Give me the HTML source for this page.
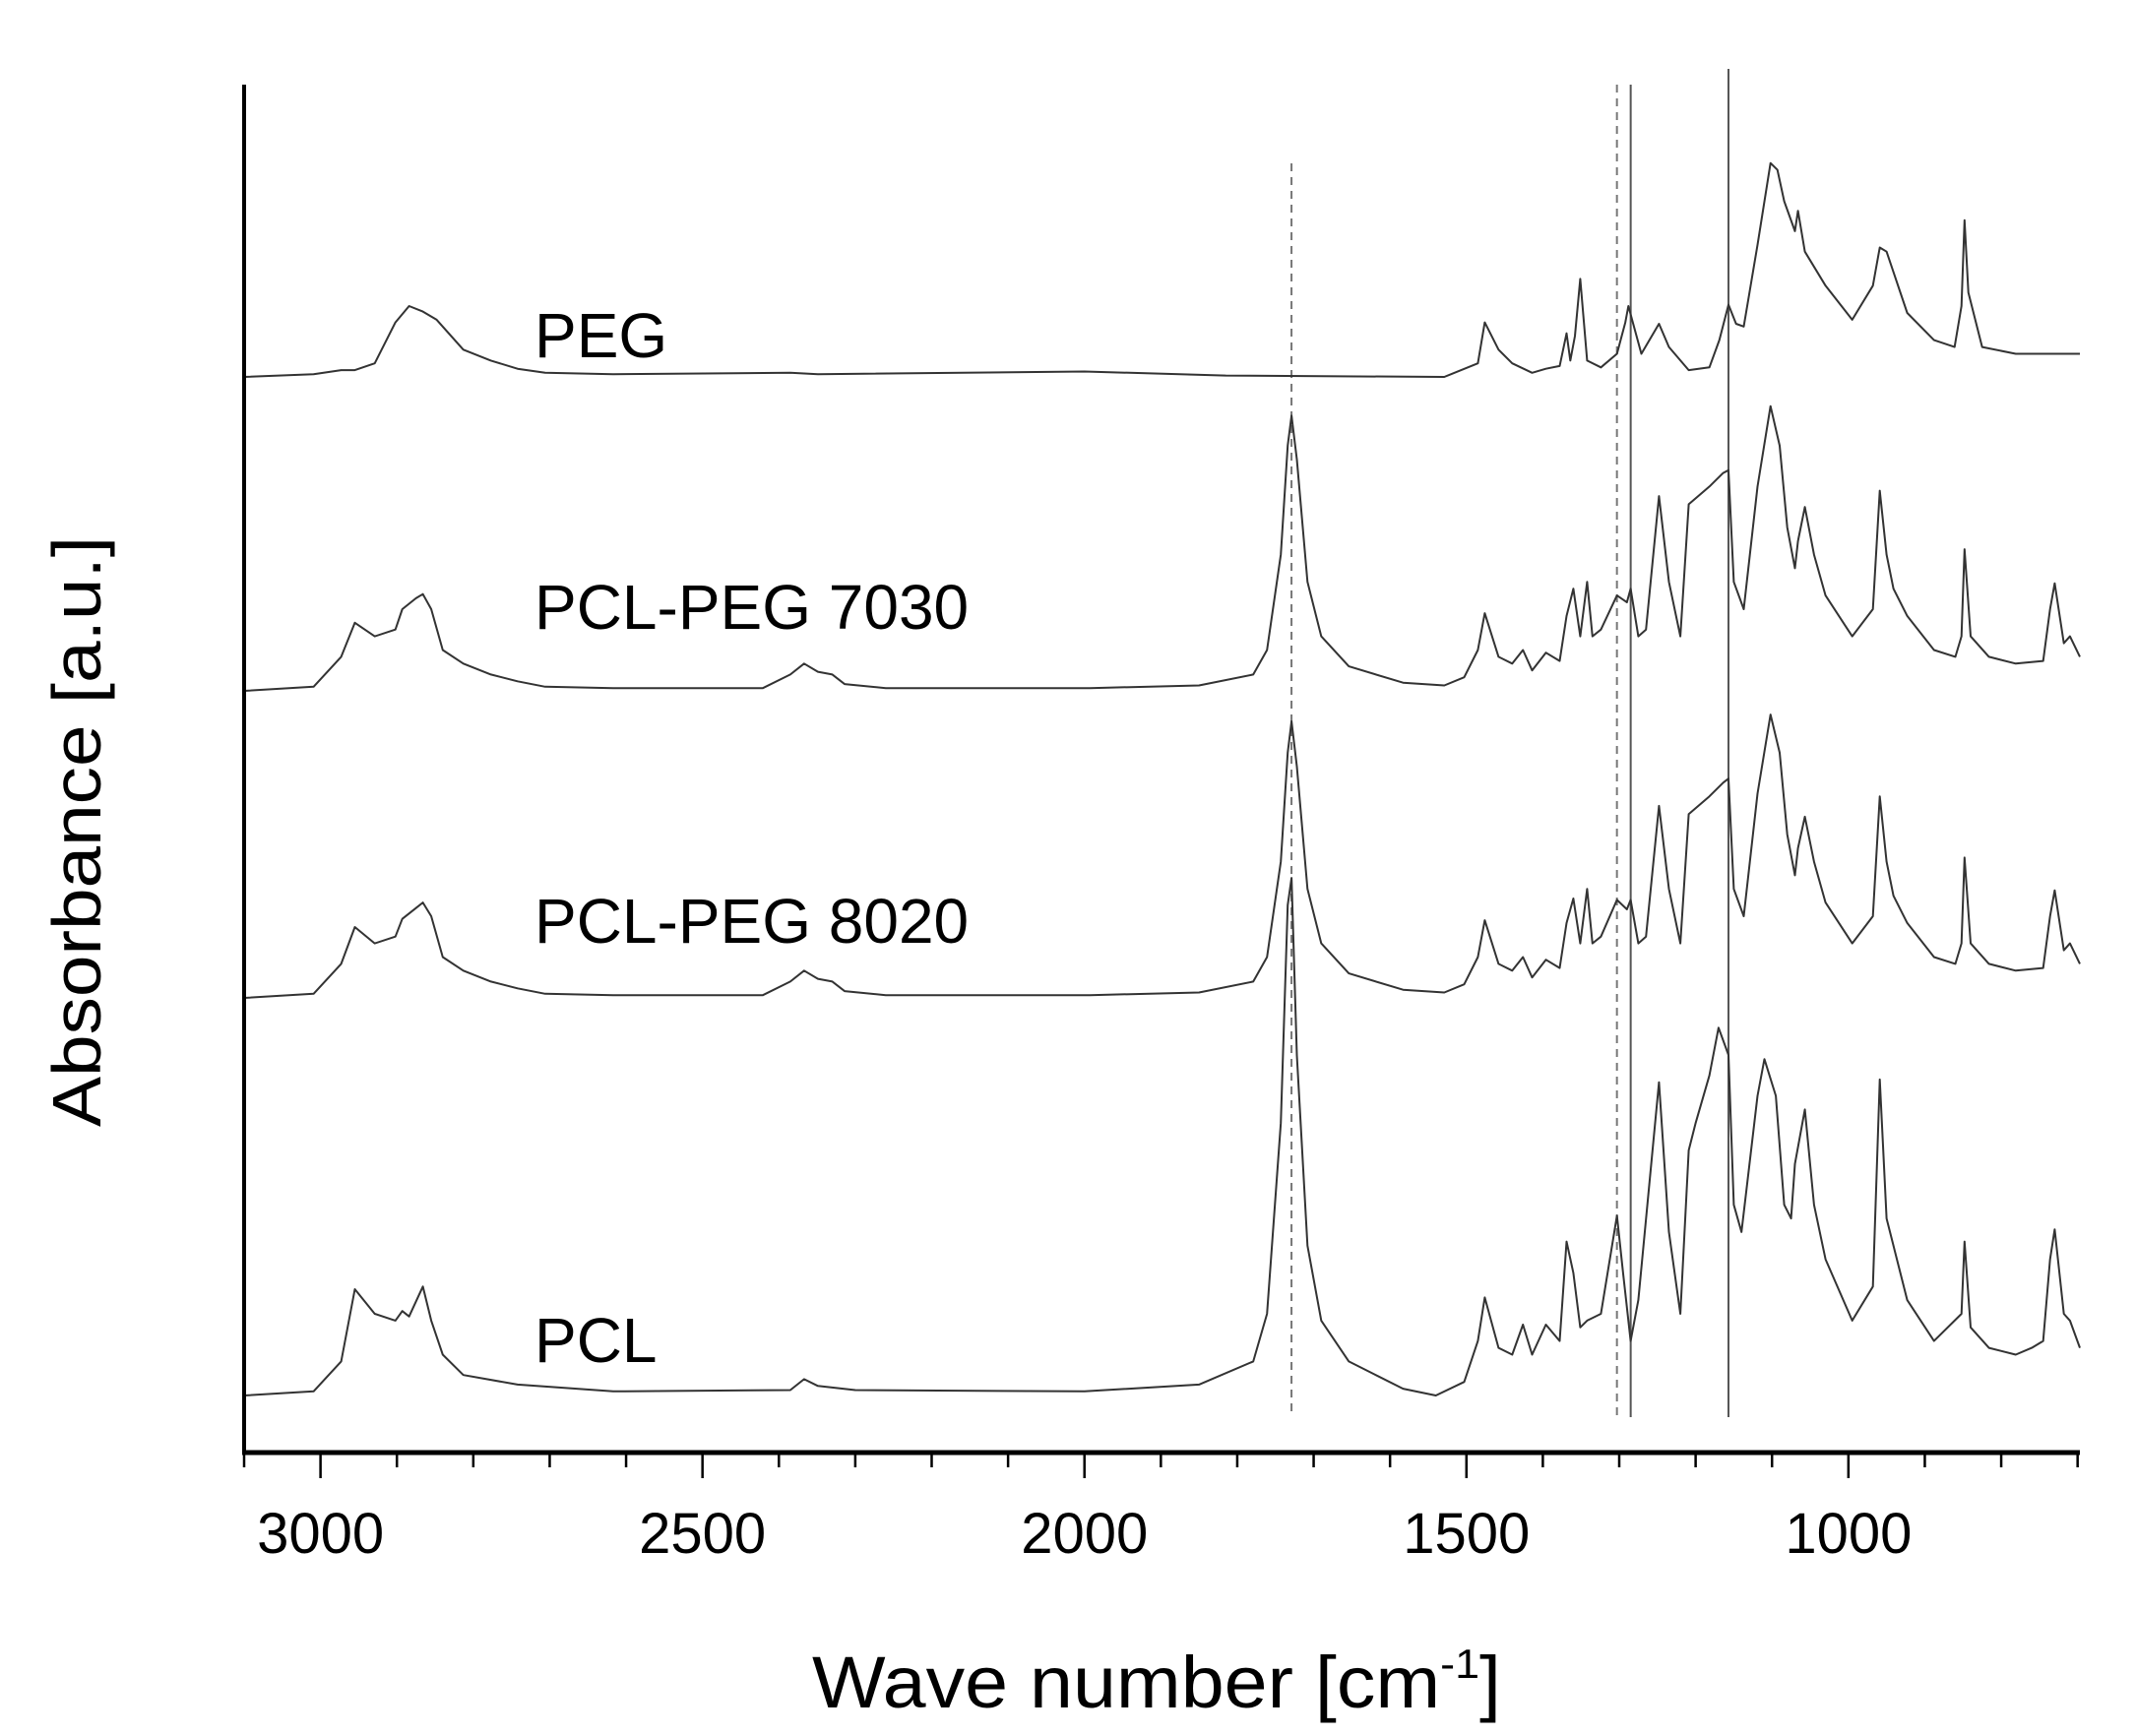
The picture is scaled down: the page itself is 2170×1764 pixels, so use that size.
<!DOCTYPE html>
<html><head><meta charset="utf-8"><style>
html,body{margin:0;padding:0;background:#fff;}
svg{display:block;}
text{font-family:"Liberation Sans",sans-serif;fill:#000;}
</style></head><body>
<svg id="chart" width="2170" height="1764" viewBox="0 0 2170 1764" xmlns="http://www.w3.org/2000/svg">
<g id="plot"></g>
<g id="axes"></g>
<text x="1175" y="1735" font-size="74" text-anchor="middle" textLength="700" lengthAdjust="spacingAndGlyphs">Wave number [cm<tspan dy="-30" font-size="42">-1</tspan><tspan dy="30">]</tspan></text>
<text transform="translate(102,845) rotate(-90)" font-size="70" text-anchor="middle" textLength="600" lengthAdjust="spacingAndGlyphs">Absorbance [a.u.]</text>
</svg>
<script>
const seriesNames = ["PEG","PCL-PEG 7030","PCL-PEG 8020","PCL"];
const seriesOffsets = [383, 702, 1014, 1418];
const labelBaselines = [363, 639, 958, 1384];
const pegWn = [3100,3009,2973,2955,2929,2902,2884,2866,2848,2813,2777,2742,2706,2617,2385,2349,2000,1815,1529,1485,1476,1458,1440,1414,1396,1378,1369,1364,1358,1351,1342,1324,1303,1292,1288,1271,1248,1235,1209,1182,1169,1157,1147,1137,1119,1102,1093,1084,1070,1066,1057,1030,995,968,959,950,941,923,888,861,852,848,843,825,781,697];
const pegVal = [0,2,5,5,10,40,52,48,42,20,12,6,3,2,3,2,4,1,0,10,40,20,10,3,6,8,32,12,30,72,12,7,17,40,52,17,39,22,5,7,27,53,39,37,97,157,152,129,107,122,92,67,42,67,95,92,77,47,27,22,52,115,62,22,17,17];
const mixWn = [3100,3009,2973,2955,2929,2902,2893,2875,2866,2855,2840,2813,2777,2742,2706,2617,2421,2385,2367,2349,2330,2314,2260,1993,1850,1779,1761,1743,1734,1729,1722,1708,1690,1654,1583,1529,1503,1485,1476,1458,1440,1426,1414,1396,1378,1369,1360,1351,1342,1335,1324,1303,1290,1285,1275,1265,1248,1235,1220,1209,1182,1164,1157,1150,1137,1119,1102,1090,1080,1070,1066,1057,1045,1030,995,968,959,950,941,923,888,860,852,848,840,816,781,745,736,730,718,710,697];
const v7030 = [0,3,25,50,40,45,60,68,71,60,30,20,12,7,3,2,2,12,20,14,12,5,2,2,4,12,30,100,180,202,170,80,40,18,6,4,10,30,57,25,20,30,15,28,22,55,75,40,80,40,45,70,65,75,40,45,143,80,40,137,150,160,162,80,60,150,209,180,120,90,110,135,100,70,40,60,147,100,75,55,30,25,40,104,40,25,20,22,60,79,35,40,25];
const v8020 = [0,3,25,52,40,45,58,66,70,60,30,20,12,7,3,2,2,12,20,14,12,5,2,2,4,12,30,100,180,203,170,80,40,18,6,4,10,30,57,25,20,30,15,28,22,55,73,40,80,40,45,72,65,72,40,45,141,80,40,135,148,158,161,80,60,150,208,180,120,90,110,133,100,70,40,60,148,100,75,55,30,25,40,103,40,25,20,22,60,79,35,40,25];
const pclWn = [3100,3009,2973,2955,2929,2902,2893,2884,2866,2855,2840,2813,2742,2617,2385,2367,2349,2300,2000,1850,1779,1761,1743,1734,1729,1722,1708,1690,1654,1583,1540,1503,1485,1476,1458,1440,1426,1414,1396,1378,1369,1360,1351,1342,1324,1303,1295,1285,1275,1248,1235,1220,1209,1200,1182,1170,1157,1150,1140,1119,1110,1095,1084,1075,1070,1057,1045,1030,995,968,959,950,941,923,888,852,848,840,816,781,760,745,736,730,718,710,697];
const pclVal = [0,3,25,78,60,55,62,58,80,55,30,15,8,3,4,12,7,4,3,8,25,60,200,360,380,250,110,55,25,5,0,10,40,72,35,30,52,30,52,40,113,90,50,55,60,132,90,40,70,230,120,60,180,200,235,270,250,140,120,220,247,220,140,130,170,210,140,100,55,80,232,130,110,70,40,60,113,50,35,30,35,40,100,122,60,55,35];
const seriesWn = [pegWn, mixWn, mixWn, pclWn];
const seriesVal = [pegVal, v7030, v8020, pclVal];
const xTicksMajor = [3000,2500,2000,1500,1000];
const xMin = 3100, xMax = 697;
const refLines = [1729, 1303, 1285, 1157];
const refDashed = [true, true, false, false];
const refTop = [166, 86, 86, 70];

const X0 = 248, X1 = 2113, AXY = 1476, YSC = 1.384;
function xs(w){ return X0 + (xMin - w) * (X1 - X0) / (xMin - xMax); }
function ys(i, v){ return seriesOffsets[i] - v * YSC; }
const NS = "http://www.w3.org/2000/svg";
function mk(tag, attrs, parent){ const e=document.createElementNS(NS,tag); for(const k in attrs) e.setAttribute(k,attrs[k]); parent.appendChild(e); return e; }
const plot = document.getElementById('plot'), axes = document.getElementById('axes');

refLines.forEach((w,i)=>{
  const l = mk('line',{x1:xs(w),x2:xs(w),y1:refTop[i],y2:1440,stroke:refDashed[i]?'#777':'#555','stroke-width':2,'stroke-dasharray':refDashed[i]?'8,6':'none'},plot);
  
  
});
seriesNames.forEach((n,i)=>{
  const d = seriesWn[i].map((w,j)=>(j?'L':'M')+xs(w).toFixed(1)+','+ys(i,seriesVal[i][j]).toFixed(1)).join(' ');
  const p = mk('path',{d:d,fill:'none',stroke:'#333','stroke-width':2,'stroke-linejoin':'round'},plot);
  
  
  const t = mk('text',{x:543,y:labelBaselines[i],'font-size':64},plot);
  t.textContent = n;
  
  
});
const ya = mk('line',{x1:X0,x2:X0,y1:86,y2:AXY,stroke:'#000','stroke-width':4},axes);


const xa = mk('line',{x1:X0-2,x2:X1,y1:AXY,y2:AXY,stroke:'#000','stroke-width':5},axes);


for(let w=3100; w>=700; w-=100){
  const major = xTicksMajor.indexOf(w)>=0;
  const tk = mk('line',{x1:xs(w),x2:xs(w),y1:AXY,y2:AXY+(major?26:15),stroke:'#000','stroke-width':2.5},axes);
  
  
}
xTicksMajor.forEach(w=>{
  const t = mk('text',{x:xs(w),y:1578,'font-size':58,'text-anchor':'middle'},axes);
  t.textContent = String(w);
  
  
});
</script>
</body></html>
